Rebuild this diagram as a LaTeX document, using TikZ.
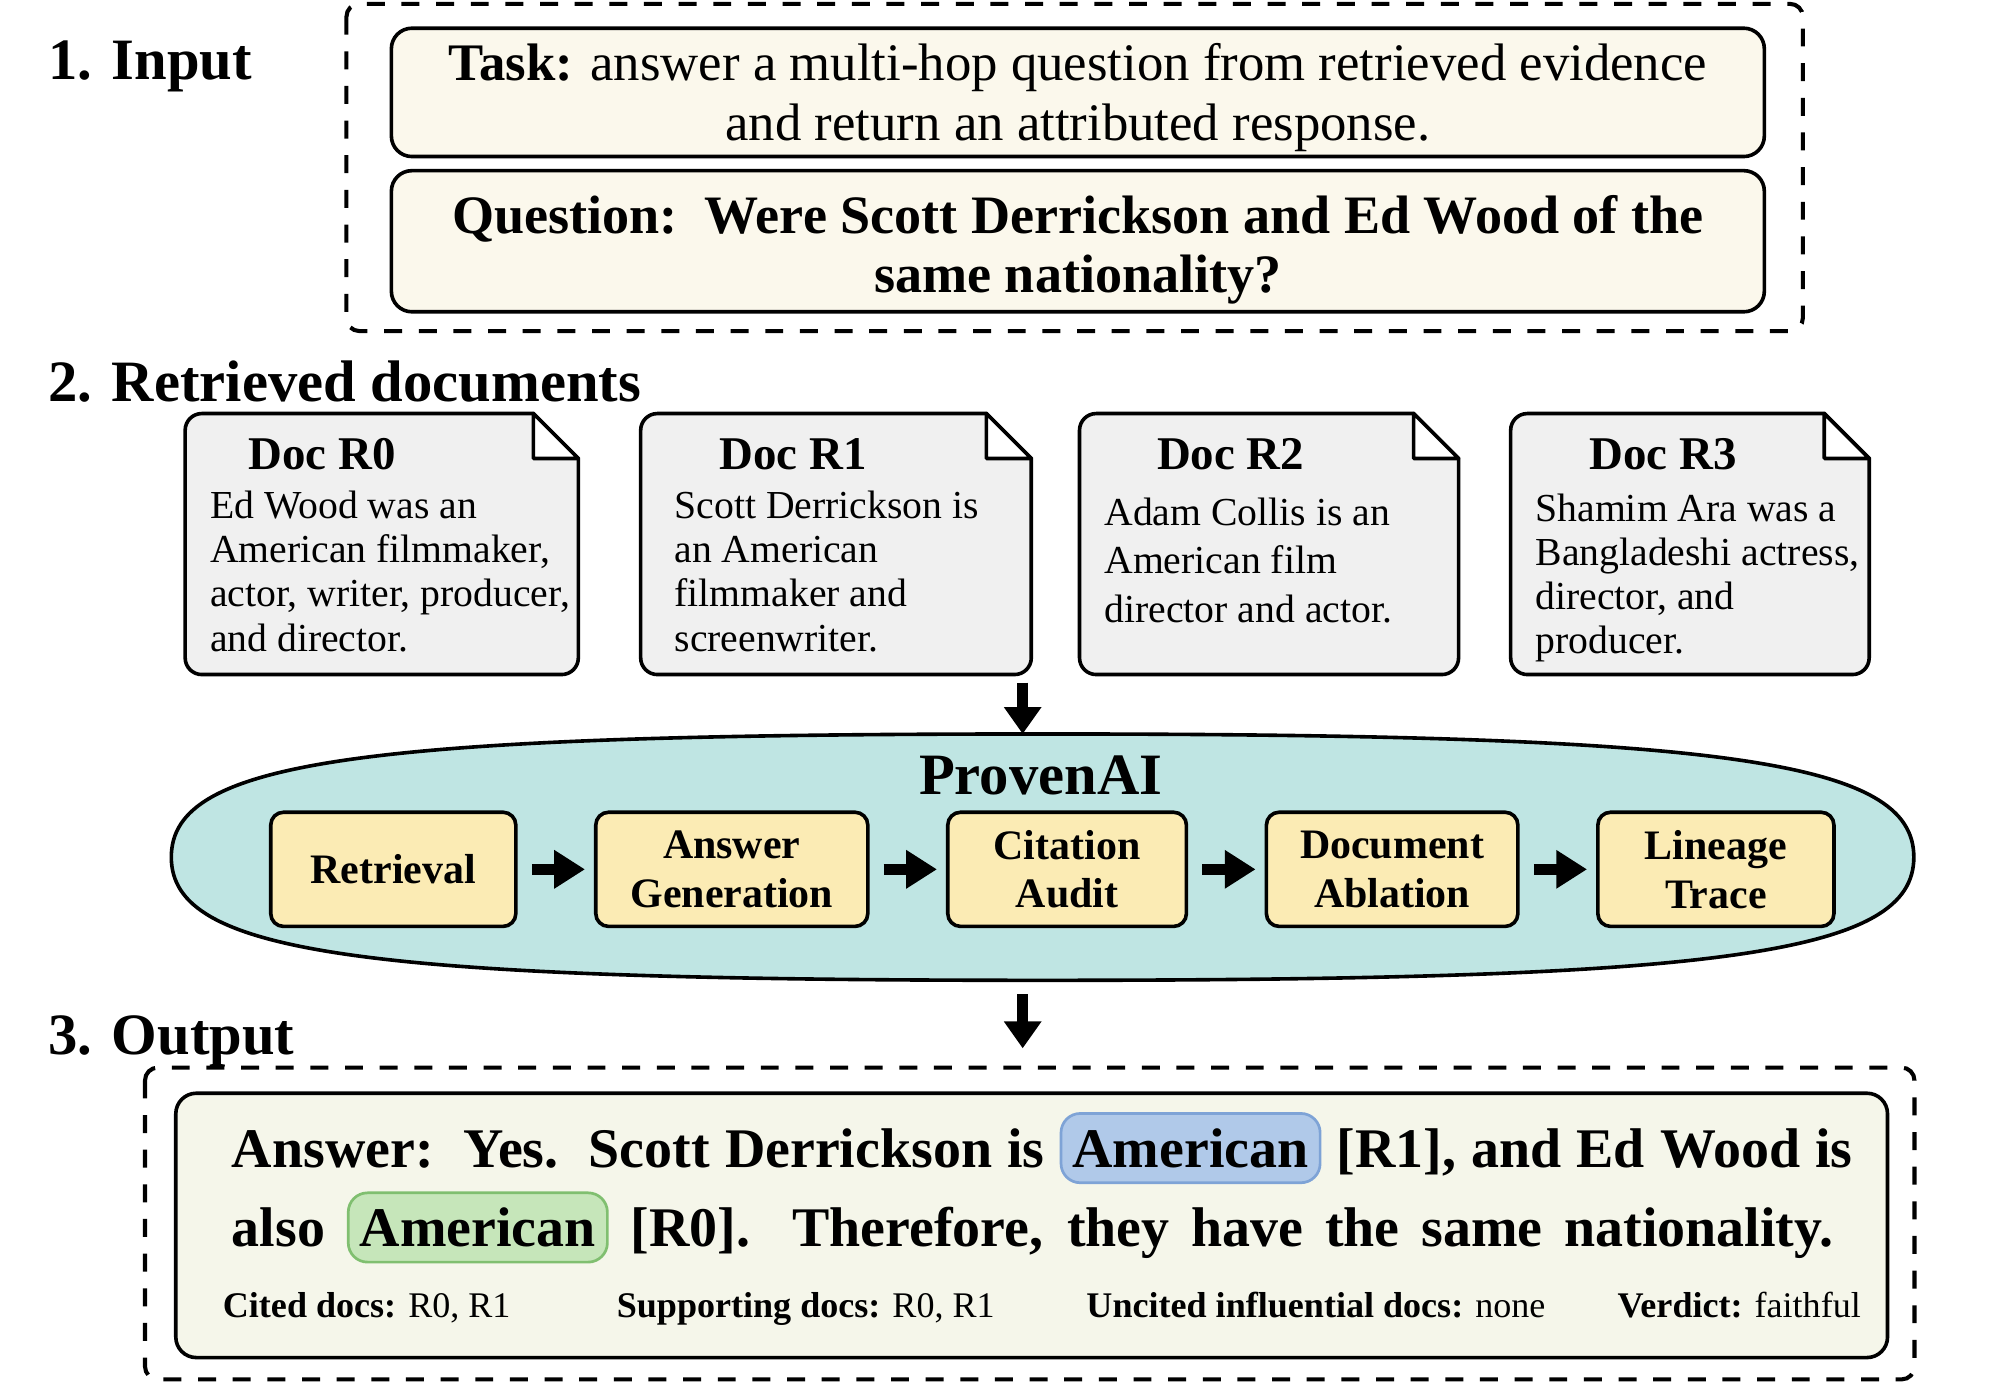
\documentclass[tikz,border=0pt]{standalone}
\usepackage{fontspec}
\setmainfont{Liberation Serif}
\usetikzlibrary{positioning,calc,arrows.meta}
\definecolor{taskfill}{HTML}{FBF8EC}
\definecolor{docfill}{HTML}{F0F0F0}
\definecolor{corefill}{HTML}{BFE5E3}
\definecolor{stagefill}{HTML}{FBEBB4}
\definecolor{ansfill}{HTML}{F5F6EA}
\definecolor{bluefill}{HTML}{B0C9E9}
\definecolor{blueline}{HTML}{7EA3D6}
\definecolor{greenfill}{HTML}{C6E6BA}
\definecolor{greenline}{HTML}{80BF70}
\newcommand*{\fsz}[2]{\fontsize{#1}{#2}\selectfont}
% highlighted word inside the answer
\newcommand*{\hlword}[4]{\tikz[baseline=(#1.base)]\node[hlbox,fill=#2,draw=#3] (#1) {#4};}
% document sheet with a folded corner, drawn round an empty node
\newcommand*{\drawdoc}[1]{%
  \draw[docline,fill=docfill] ([xshift=-3.5mm]#1.north east) -- ([yshift=-3.5mm]#1.north east)
    {[rounded corners=1.3mm] -- (#1.south east) -- (#1.south west) -- (#1.north west)} -- cycle;
  \draw[docline,fill=white,line join=round] ([xshift=-3.5mm]#1.north east)
    -- ([xshift=-3.5mm,yshift=-3.5mm]#1.north east) -- ([yshift=-3.5mm]#1.north east) -- cycle;}
\tikzset{
  sechead/.style={anchor=base west,inner sep=0,font=\fsz{13}{15}\bfseries},
  groupbox/.style={line width=0.9pt,dash pattern=on 1.4mm off 1.3mm,rounded corners=1mm},
  inbox/.style={draw,line width=0.8pt,rounded corners=1.6mm,fill=taskfill,
                minimum width=107mm,inner sep=0},
  intext/.style={align=center,inner sep=0},
  docnode/.style={minimum height=20.2mm,inner sep=0},
  docline/.style={line width=0.8pt},
  doctitle/.style={anchor=base west,inner sep=0,font=\fsz{10.4}{12}\bfseries},
  docbody/.style={anchor=north west,inner sep=0,align=left,font=\fsz{8.8}{9.8}},
  stage/.style={draw,line width=0.8pt,fill=stagefill,rounded corners=1mm,
                minimum height=8.9mm,align=center,inner sep=0,font=\fsz{9.3}{10.8}\bfseries},
  steparrow/.style={line width=0.9mm,-{Triangle[length=2.4mm,width=2.85mm]},
                    shorten <=1.1mm,shorten >=0.7mm},
  downarrow/.style={line width=0.85mm,-{Triangle[length=2.1mm,width=2.8mm]}},
  hlbox/.style={align=none,anchor=center,rounded corners=1.5mm,line width=0.6pt,
                inner xsep=0.9mm,inner ysep=1.2mm,text height=3mm,text depth=0mm},
  infoline/.style={anchor=base west,inner sep=0,font=\fsz{8}{9}}
}
\begin{document}
\begin{tikzpicture}[x=0.1mm,y=-0.1mm]
\useasboundingbox (0,0) rectangle (1568,1091);
% Section 1: the input
\node[sechead] (inhead) at (37,62) {1. Input};
\draw[groupbox] (270,3) rectangle (1405,258);
\node[inbox,minimum height=10mm] (task) at (840,72) {};
\node[intext,font=\fsz{11.7}{13.1}] (tasktext) at (840,76)
  {\textbf{Task:} answer a multi-hop question from retrieved evidence\\and return an attributed response.};
\node[inbox,minimum height=11mm] (question) at (840,188) {};
\node[intext,font=\fsz{12}{13.1}\bfseries] (questiontext) at (840,195)
  {Question:\ \ Were Scott Derrickson and Ed Wood of the\\same nationality?};
% Section 2: the retrieved documents
\node[sechead] (dochead) at (37,313) {2. Retrieved documents};
\node[docnode,minimum width=30.5mm] (r0) at (297.5,424) {};
\node[docnode,minimum width=30.3mm] (r1) at (651.5,424) {};
\node[docnode,minimum width=29.4mm] (r2) at (989,424) {};
\node[docnode,minimum width=27.8mm] (r3) at (1317,424) {};
\drawdoc{r0}
\drawdoc{r1}
\drawdoc{r2}
\drawdoc{r3}
\node[doctitle] (r0title) at (193,366) {Doc R0};
\node[doctitle] (r1title) at (560,366) {Doc R1};
\node[doctitle] (r2title) at (901,366) {Doc R2};
\node[doctitle] (r3title) at (1238,366) {Doc R3};
\node[docbody] (r0text) at (163,382) {Ed Wood was an\\American filmmaker,\\actor, writer, producer,\\and director.};
\node[docbody] (r1text) at (525,382) {Scott Derrickson is\\an American\\filmmaker and\\screenwriter.};
\node[docbody,font=\fsz{8.8}{10.8}] (r2text) at (860,387) {Adam Collis is an\\American film\\director and actor.};
\node[docbody] (r3text) at (1196,384) {Shamim Ara was a\\Bangladeshi actress,\\director, and\\producer.};
% The ProvenAI pipeline: a rounded oval round an empty node
\node[inner sep=0,outer sep=0,minimum width=135.8mm,minimum height=19.2mm] (core) at (812.5,668) {};
\draw[line width=0.8pt,fill=corefill]
  (core.east) .. controls ($(core.east)!0.784!(core.north east)$) and ($(core.north)!0.784!(core.north east)$) .. (core.north)
  .. controls ($(core.north)!0.784!(core.north west)$) and ($(core.west)!0.784!(core.north west)$) .. (core.west)
  .. controls ($(core.west)!0.784!(core.south west)$) and ($(core.south)!0.784!(core.south west)$) .. (core.south)
  .. controls ($(core.south)!0.784!(core.south east)$) and ($(core.east)!0.784!(core.south east)$) .. (core.east) -- cycle;
\node[font=\fsz{13}{15}\bfseries,inner sep=0] (provenai) at (811,604) {ProvenAI};
\node[stage,minimum width=19.1mm] (retr) at (306.5,677.5) {Retrieval};
\node[stage,minimum width=21.2mm,right=5.95mm of retr] (gen) {Answer\\Generation};
\node[stage,minimum width=18.6mm,right=5.95mm of gen] (audit) {Citation\\Audit};
\node[stage,minimum width=19.6mm,right=5.95mm of audit] (ablate) {Document\\Ablation};
\node[stage,minimum width=18.4mm,right=5.95mm of ablate] (trace) {Lineage\\Trace};
\draw[steparrow] (retr) -- (gen);
\draw[steparrow] (gen) -- (audit);
\draw[steparrow] (audit) -- (ablate);
\draw[steparrow] (ablate) -- (trace);
% Arrows into and out of the pipeline
\coordinate (intop) at (797,532);
\coordinate (outend) at (797,817);
\draw[downarrow] (intop) -- (core.north -| intop);
\draw[downarrow,shorten <=1.1mm] (core.south -| outend) -- (outend);
% Section 3: the output
\node[sechead] (outhead) at (37,822) {3. Output};
\draw[groupbox] (113,832) rectangle (1492,1075);
\node[draw,line width=0.8pt,rounded corners=1.6mm,fill=ansfill,minimum width=133.4mm,
      minimum height=20.6mm,inner sep=0] (answer) at (804,955) {};
% each answer line stretched to its width
\node[anchor=north west,inner sep=0,align=left,font=\fsz{12.4}{17.6}\bfseries] (anstext) at (180,866)
  {\makebox[126.3mm][s]{Answer:\ \ Yes.\ \ Scott Derrickson is \hlword{amblue}{bluefill}{blueline}{American} [R1], and Ed Wood is}\\
   \makebox[124.8mm][s]{also \hlword{amgreen}{greenfill}{greenline}{American} [R0]. Therefore, they have the same nationality.}};
\node[infoline] (cited) at (173,1027) {\textbf{Cited docs:} R0, R1};
\node[infoline] (support) at (480,1027) {\textbf{Supporting docs:} R0, R1};
\node[infoline] (uncited) at (846,1027) {\textbf{Uncited influential docs:} none};
\node[infoline] (verdict) at (1260,1027) {\textbf{Verdict:} faithful};
\end{tikzpicture}
\end{document}
